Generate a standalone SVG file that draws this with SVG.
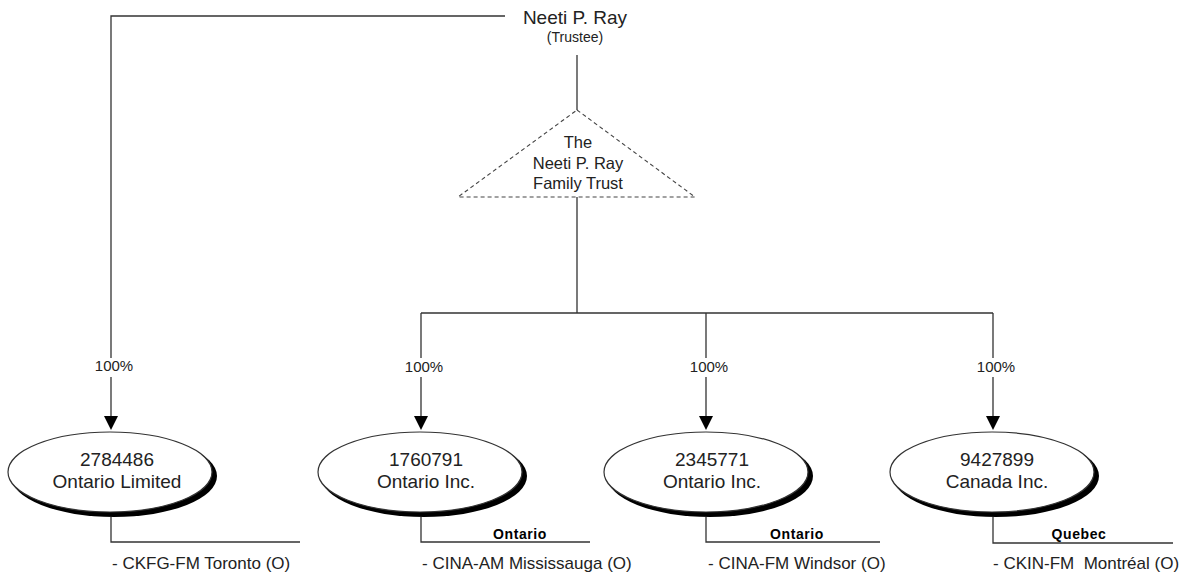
<svg xmlns="http://www.w3.org/2000/svg" width="1183" height="575" viewBox="0 0 1183 575">
<defs>
<style>
text{font-family:"Liberation Sans",Arial,sans-serif;fill:#222}
.n{font-size:19px;text-anchor:middle}
.t{font-size:16.5px;text-anchor:middle}
.p{font-size:15px;text-anchor:middle}
.s{font-size:17px}
.b{font-size:14px;font-weight:bold;text-anchor:middle;fill:#000;letter-spacing:0.6px}
.ln{fill:none;stroke:#333;stroke-width:1.3}
.el{fill:#fff;stroke:#333;stroke-width:1.2}
.sh{fill:#000}
</style>
</defs>
<rect width="1183" height="575" fill="#fff"/>
<g id="connectors">
<path class="ln" d="M505 16 H111 V358"/>
<path class="ln" d="M111 377 V416" />
<path d="M104 416 L118 416 L111 430 Z" fill="#000"/>
<path class="ln" d="M577 55 V110"/>
<path class="ln" d="M577 197 V313 M421 313 H993"/>
<path class="ln" d="M421 313 V358 M421 377 V416"/>
<path d="M414 416 L428 416 L421 430 Z" fill="#000"/>
<path class="ln" d="M706 313 V358 M706 377 V416"/>
<path d="M699 416 L713 416 L706 430 Z" fill="#000"/>
<path class="ln" d="M993 313 V358 M993 377 V416"/>
<path d="M986 416 L1000 416 L993 430 Z" fill="#000"/>
<text class="p" x="114" y="371">100%</text>
<text class="p" x="424" y="372">100%</text>
<text class="p" x="709" y="372">100%</text>
<text class="p" x="996" y="372">100%</text>
</g>
<g id="trustee">
<text class="n" x="575" y="24">Neeti P. Ray</text>
<text x="575" y="42" style="font-size:14px;text-anchor:middle">(Trustee)</text>
</g>
<g id="trust">
<polygon points="577,110 695,197 458,197" fill="#fff" stroke="#444" stroke-width="1.1" stroke-dasharray="4,3"/>
<text class="t" x="578" y="148">The</text>
<text class="t" x="578" y="169">Neeti P. Ray</text>
<text class="t" x="578" y="189">Family Trust</text>
</g>
<g id="co1">
<ellipse class="sh" cx="114" cy="476" rx="103" ry="41"/>
<ellipse class="el" cx="110" cy="472" rx="102" ry="40"/>
<text class="n" x="117" y="466">2784486</text>
<text class="n" x="117" y="488">Ontario Limited</text>
<path class="ln" d="M111 517 V542 H300"/>
<text class="s" x="112" y="569">- CKFG-FM Toronto (O)</text>
</g>
<g id="co2">
<ellipse class="sh" cx="424" cy="476" rx="103" ry="41"/>
<ellipse class="el" cx="420" cy="472" rx="102" ry="40"/>
<text class="n" x="426" y="466">1760791</text>
<text class="n" x="426" y="488">Ontario Inc.</text>
<path class="ln" d="M421 517 V542 H590"/>
<text class="b" x="520" y="539">Ontario</text>
<text class="s" x="422" y="569">- CINA-AM Mississauga (O)</text>
</g>
<g id="co3">
<ellipse class="sh" cx="710" cy="476" rx="103" ry="41"/>
<ellipse class="el" cx="706" cy="472" rx="102" ry="40"/>
<text class="n" x="712" y="466">2345771</text>
<text class="n" x="712" y="488">Ontario Inc.</text>
<path class="ln" d="M706 517 V542 H880"/>
<text class="b" x="797" y="539">Ontario</text>
<text class="s" x="708" y="569">- CINA-FM Windsor (O)</text>
</g>
<g id="co4">
<ellipse class="sh" cx="996" cy="476" rx="103" ry="41"/>
<ellipse class="el" cx="992" cy="472" rx="102" ry="40"/>
<text class="n" x="997" y="466">9427899</text>
<text class="n" x="997" y="488">Canada Inc.</text>
<path class="ln" d="M993 517 V543 H1173"/>
<text class="b" x="1079" y="539">Quebec</text>
<text class="s" x="993" y="569" xml:space="preserve">- CKIN-FM  Montréal (O)</text>
</g>
</svg>
